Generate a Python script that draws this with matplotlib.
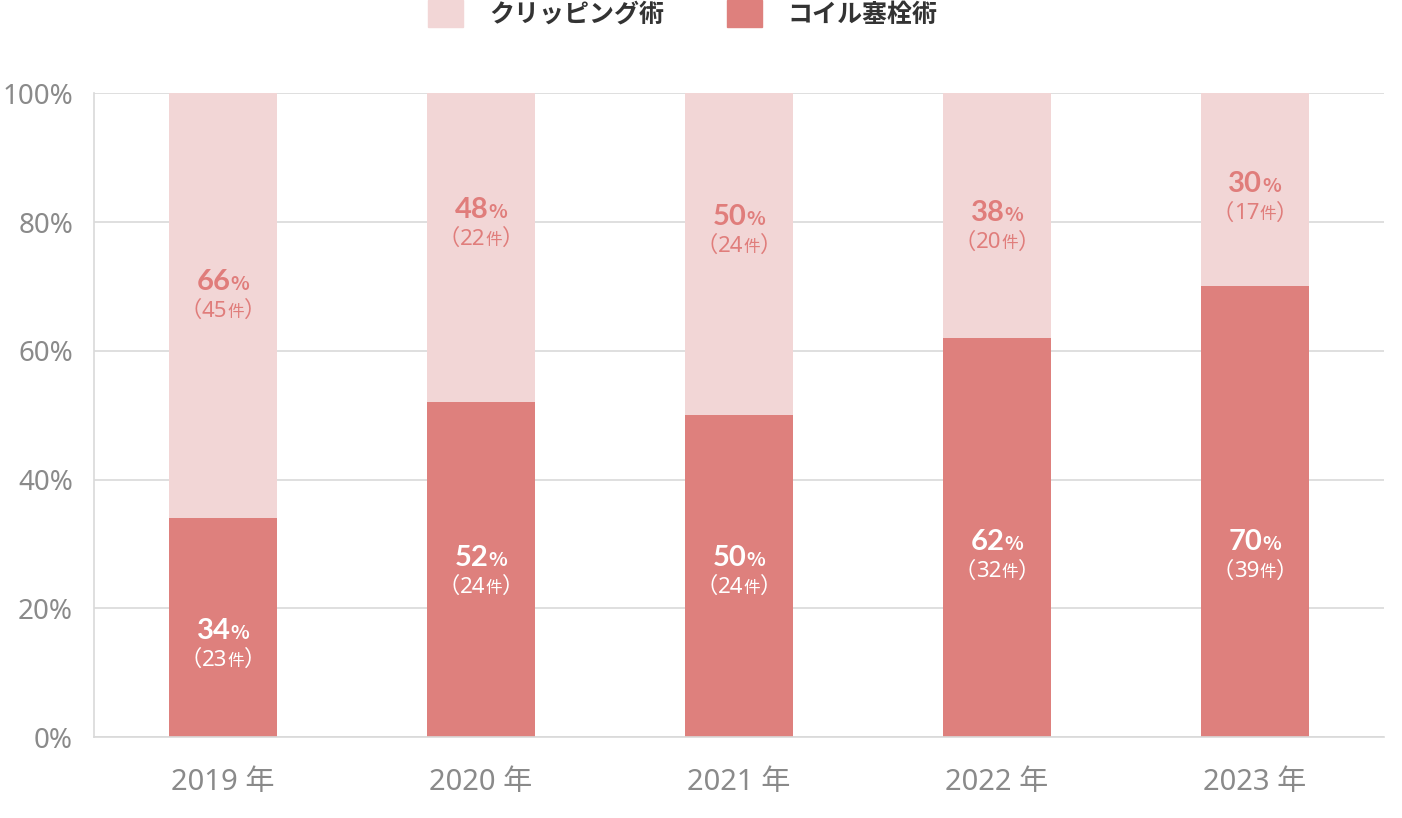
import matplotlib

matplotlib.use("Agg")
import matplotlib.pyplot as plt
from matplotlib.patches import Patch
from matplotlib.transforms import ScaledTranslation

plt.rcParams["font.family"] = ["Noto Sans", "Noto Sans CJK JP", "DejaVu Sans"]

years = ["2019 年", "2020 年", "2021 年", "2022 年", "2023 年"]
coil_pct = [34, 52, 50, 62, 70]
coil_n = [23, 24, 24, 32, 39]
clip_pct = [66, 48, 50, 38, 30]
clip_n = [45, 22, 24, 20, 17]
series = ["クリッピング術", "コイル塞栓術"]

# where the two-line labels sit (percent on the y axis)
coil_label_y = [14.6, 26.0, 26.0, 28.4, 28.4]
clip_label_y = [68.8, 80.0, 79.0, 79.5, 84.0]

LIGHT = "#f2d6d6"
DARK = "#de807d"
TXT_TOP = "#e07d7b"
GRAY = "#8a8a8a"

fig = plt.figure(figsize=(14.02, 8.18), dpi=100)
ax = fig.add_axes([0.067, 0.099, 0.92, 0.787])
renderer = fig.canvas.get_renderer()


def parts_text(x, y, parts, color):
    """Draw a run of differently sized pieces centred on (x, y)."""
    objs = []
    for s, size, weight, fam in parts:
        t = ax.text(x, y, s, ha="left", va="baseline", fontsize=size,
                    fontweight=weight, color=color, family=fam)
        objs.append(t)
    widths = [t.get_window_extent(renderer).width for t in objs]
    off = -sum(widths) / 2
    for t, w in zip(objs, widths):
        t.set_transform(ax.transData + ScaledTranslation(off / fig.dpi, 0, fig.dpi_scale_trans))
        off += w


def pair_label(x, c, pct, n, color):
    bold = ["Lato", "DejaVu Sans"]
    cjk = ["Noto Sans CJK JP"]
    reg = ["Noto Sans", "Noto Sans CJK JP"]
    parts_text(x, c + 0.6, [(str(pct), 21, "bold", bold), ("%", 14, "bold", cjk)], color)
    parts_text(x, c - 3.6, [("（", 16, "normal", reg), (str(n), 16, "normal", reg),
                            ("件", 12, "normal", reg), ("）", 16, "normal", reg)], color)


xs = list(range(len(years)))
ax.bar(xs, coil_pct, width=0.42, color=DARK, zorder=2)
ax.bar(xs, clip_pct, width=0.42, bottom=coil_pct, color=LIGHT, zorder=2)

for i in xs:
    pair_label(i, coil_label_y[i], coil_pct[i], coil_n[i], "white")
    pair_label(i, clip_label_y[i], clip_pct[i], clip_n[i], TXT_TOP)

ax.set_xlim(-0.5, len(years) - 0.5)
ax.set_ylim(0, 100)
ax.set_yticks(range(0, 101, 20))
ax.set_yticklabels([f"{v}%" for v in range(0, 101, 20)])
ax.set_xticks(xs)
ax.set_xticklabels(years)
ax.tick_params(axis="both", length=0, labelsize=20, colors=GRAY)
ax.tick_params(axis="x", pad=22, labelsize=21)
ax.tick_params(axis="y", pad=15)
ax.grid(axis="y", color="#d9d9d9", lw=1.2, zorder=0)
for side in ("top", "right"):
    ax.spines[side].set_visible(False)
for side in ("left", "bottom"):
    ax.spines[side].set_color("#d9d9d9")
    ax.spines[side].set_linewidth(1.2)

handles = [Patch(color=LIGHT), Patch(color=DARK)]
leg = fig.legend(handles, series, loc="upper center", bbox_to_anchor=(0.487, 1.0),
                 ncol=2, frameon=False, borderpad=0, borderaxespad=0,
                 handlelength=1.4, handleheight=1.3,
                 handletextpad=1.05, columnspacing=2.5,
                 prop={"family": ["Noto Sans CJK JP"], "size": 18, "weight": "bold"})
for t in leg.get_texts():
    t.set_color("#333333")

fig.savefig("out.png", dpi=100)
